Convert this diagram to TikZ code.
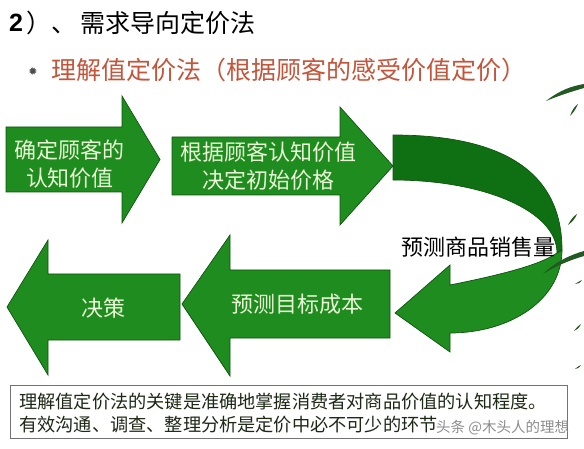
\documentclass[tikz,border=0pt]{standalone}
\usepackage{fontspec}
\setmainfont{Liberation Sans}
\newfontfamily\cjk{Noto Sans CJK SC}
\newfontfamily\symb{DejaVu Sans}
\definecolor{arrowgreen}{RGB}{30,140,30}
\definecolor{bandgreen}{RGB}{14,112,18}
\definecolor{edgegreen}{RGB}{15,85,15}
\definecolor{arrowtextc}{RGB}{234,246,214}
\definecolor{subred}{RGB}{196,85,59}
\definecolor{boxtext}{RGB}{30,40,22}
\definecolor{leafgreen}{RGB}{35,90,35}
\tikzset{
  greenarrow/.style={fill=arrowgreen, draw=edgegreen, line width=0.7pt, line join=miter},
  backband/.style={fill=bandgreen, draw=edgegreen, line width=0.7pt},
  arrowtext/.style={text=arrowtextc, font=\cjk\fontsize{22}{28}\selectfont, align=center, inner sep=0pt},
  plaintext/.style={text=black, font=\cjk\fontsize{22}{28}\selectfont, inner sep=0pt},
  leaf/.style={fill=leafgreen, draw=none},
}
\begin{document}
\begin{tikzpicture}[x=1pt,y=-1pt]
\useasboundingbox (0,0) rectangle (584,449);
\fill[white] (0,0) rectangle (584,449);

% titles
\node[anchor=west, inner sep=0pt, font=\bfseries\fontsize{25}{30}\selectfont] (tnum) at (9,23) {2};
\node[anchor=west, inner sep=0pt, font=\cjk\fontsize{25}{30}\selectfont] (tpunct) at (26,23) {）、};
\node[anchor=west, inner sep=0pt, font=\cjk\fontsize{25}{30}\selectfont] (title) at (80,23) {需求导向定价法};
\node[anchor=center, inner sep=0pt, text=black!70, font=\symb\fontsize{11}{12}\selectfont] (bullet) at (33,71) {✹};
\node[anchor=west, inner sep=0pt, text=subred, font=\cjk\fontsize{25}{30}\selectfont] (subtitle) at (51,70) {理解值定价法（根据顾客的感受价值定价）};

% curved arrow (light front part, then dark back part)
\draw[greenarrow] (562,250) .. controls (562,300) and (510,333) .. (450,333)
  -- (450,352) -- (395,313) -- (450,265) -- (450,285)
  .. controls (500,275) and (540,265) .. (557,253) -- cycle;
\draw[backband] (393,135) .. controls (500,135) and (562,170) .. (562,250)
  -- (557,253) .. controls (557,211) and (484,180) .. (393,180) -- cycle;

% straight arrows
\draw[greenarrow] (6,127) -- (122,127) -- (122,96) -- (160,159.5) -- (122,223) -- (122,192) -- (6,192) -- cycle;
\draw[greenarrow] (172,137) -- (340,137) -- (340,107) -- (393,166) -- (340,225) -- (340,195) -- (172,195) -- cycle;
\draw[greenarrow] (390,270) -- (230,270) -- (230,235) -- (182,304) -- (230,376) -- (230,338) -- (390,338) -- cycle;
\draw[greenarrow] (180,274) -- (48,274) -- (48,240) -- (7,307) -- (48,375) -- (48,340) -- (180,340) -- cycle;

% arrow texts
\node[arrowtext] (s1) at (70,164) {确定顾客的\\认知价值};
\node[arrowtext] (s2) at (268,166) {根据顾客认知价值\\决定初始价格};
\node[plaintext] (s3) at (478,247) {预测商品销售量};
\node[arrowtext] (s4) at (297,304) {预测目标成本};
\node[arrowtext] (s5) at (103,308) {决策};

% bamboo leaves
\fill[leaf] (546,101) .. controls (560,90) and (572,86) .. (584,84) -- (584,88) .. controls (570,92) and (558,96) .. cycle;
\fill[leaf] (570,116) .. controls (572,110) and (575,106) .. (578,104) .. controls (576,109) and (573,113) .. cycle;
\fill[leaf] (568,225) .. controls (571,219) and (574,216) .. (577,214) .. controls (575,219) and (572,222) .. cycle;
\fill[leaf] (543,274) .. controls (555,262) and (570,255) .. (584,251) -- (584,256) .. controls (570,260) and (556,266) .. cycle;
\fill[leaf] (575,284) .. controls (578,282) and (580,281) .. (582,280) .. controls (580,283) and (578,284) .. cycle;
\fill[leaf] (574,331) .. controls (577,327) and (579,325) .. (581,324) .. controls (579,328) and (577,330) .. cycle;
\fill[leaf] (575,369) .. controls (577,367) and (579,366) .. (581,365) .. controls (579,368) and (577,369) .. cycle;

% bottom note box
\node[draw=black!55, line width=0.8pt, minimum width=557pt, minimum height=53pt, anchor=north west, inner sep=0pt] (notebox) at (10,385) {};
\node[anchor=west, inner sep=0pt, text=boxtext, font=\cjk\fontsize{18.2}{22}\selectfont] (note1) at (19,402) {理解值定价法的关键是准确地掌握消费者对商品价值的认知程度。};
\node[anchor=west, inner sep=0pt, text=boxtext, font=\cjk\fontsize{18.2}{22}\selectfont] (note2) at (19,425) {有效沟通、调查、整理分析是定价中必不可少的环节};
\node[anchor=west, inner sep=0pt, text=black!45, font=\cjk\fontsize{14.5}{16}\selectfont] (wm) at (436,428) {头条 @木头人的理想};
\end{tikzpicture}
\end{document}
